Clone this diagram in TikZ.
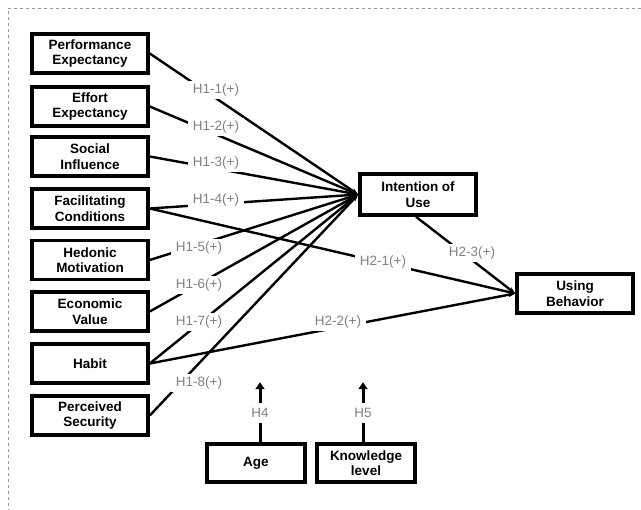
\documentclass[tikz,border=0pt]{standalone}
\usepackage{fontspec}
\setmainfont{Liberation Sans}
\usetikzlibrary{arrows.meta}
\begin{document}
\begin{tikzpicture}[x=1pt,y=-1pt,
  cbox/.style={draw=black,line width=3.6pt,minimum width=116pt,minimum height=39pt,align=center,font=\fontsize{13.5}{15.5}\selectfont\bfseries,inner sep=1pt},
  sbox/.style={cbox,minimum width=98pt,minimum height=38pt},
  link/.style={line width=2.4pt,-{Stealth[length=7pt,width=5pt]}},
  hlab/.style={fill=white,text=black!50,font=\fontsize{13.5}{15}\selectfont,inner xsep=5pt,inner ysep=3pt},
  frame/.style={draw=black!40,dashed,line width=0.8pt}]
\useasboundingbox (0,0) rectangle (641,510);
\coordinate (ftl) at (8,8);
\coordinate (ftr) at (641,8);
\coordinate (fbl) at (8,510);
\draw[frame] (ftr) -- (ftl) -- (fbl);
% left constructs
\node[cbox] (pe) at (90,53.5) {Performance\\Expectancy};
\node[cbox] (ee) at (90,106.5) {Effort\\Expectancy};
\node[cbox] (si) at (90,156.5) {Social\\Influence};
\node[cbox] (fc) at (90,208.5) {Facilitating\\Conditions};
\node[cbox] (hm) at (90,260) {Hedonic\\Motivation};
\node[cbox] (ev) at (90,311.5) {Economic\\Value};
\node[cbox] (hb) at (90,363.5) {Habit};
\node[cbox] (ps) at (90,415.5) {Perceived\\Security};
\node[cbox,minimum height=41pt] (iu) at (418,194.5) {Intention of\\Use};
\node[cbox] (ub) at (575,293.5) {Using\\Behavior};
\node[sbox] (ag) at (256,463) {Age};
\node[sbox] (kl) at (366,463) {Knowledge\\level};
% links
\foreach \s in {pe,ee,si,fc,hm,ev,hb,ps}{
  \draw[link] (\s.east) -- (iu.west);
}
\draw[link] (fc.east) -- (ub.west);
\draw[link] (hb.east) -- (ub.west);
\draw[link] ([xshift=-2pt]iu.south) -- (ub.west);
\coordinate (h4t) at ([xshift=4pt,yshift=60pt]ag.north);
\coordinate (h5t) at ([xshift=-3pt,yshift=60pt]kl.north);
\draw[line width=3pt,-{Triangle[length=7pt,width=9pt]}] ([xshift=4pt]ag.north) -- (h4t);
\draw[line width=3pt,-{Triangle[length=7pt,width=9pt]}] ([xshift=-3pt]kl.north) -- (h5t);
% labels
\node[hlab] at (216,90) {H1-1(+)};
\node[hlab] at (216,127) {H1-2(+)};
\node[hlab] at (216,163) {H1-3(+)};
\node[hlab] at (216,200) {H1-4(+)};
\node[hlab] at (199,248) {H1-5(+)};
\node[hlab] at (199,285) {H1-6(+)};
\node[hlab] at (199,322) {H1-7(+)};
\node[hlab] at (199,383) {H1-8(+)};
\node[hlab] at (383,262) {H2-1(+)};
\node[hlab] at (472,253) {H2-3(+)};
\node[hlab] at (338,322) {H2-2(+)};
\node[hlab,inner sep=5pt] at (260,413) {H4};
\node[hlab,inner sep=5pt] at (363,413) {H5};
\end{tikzpicture}
\end{document}
